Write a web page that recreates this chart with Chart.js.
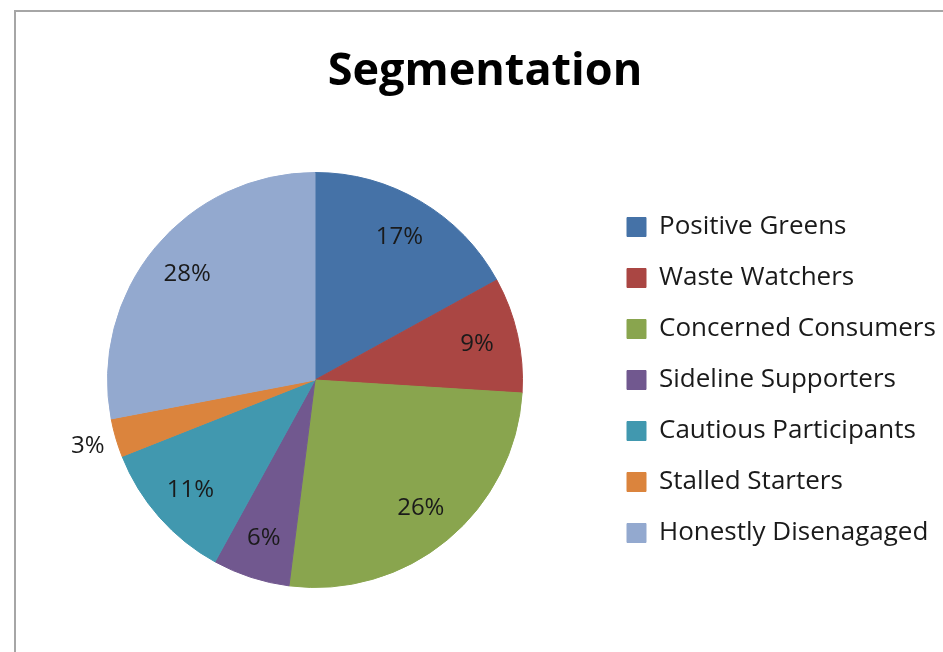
<!DOCTYPE html>
<html>
<head>
<meta charset="utf-8">
<title>Segmentation</title>
<script src="https://cdn.jsdelivr.net/npm/chart.js@4.4.1/dist/chart.umd.min.js"></script>
<style>
  html, body { margin: 0; padding: 0; background: #fff; }
  #frame {
    position: absolute; left: 14px; top: 10px; right: 0; bottom: 0;
    border-top: 2px solid #a6a6a6; border-left: 2px solid #a6a6a6;
  }
  #chart { position: absolute; left: 0; top: 0; }
</style>
</head>
<body>
<div id="frame"></div>
<canvas id="chart" width="943" height="652"></canvas>
<script>
/* ── Data ─────────────────────────────────────────────── */
const segments = [
  'Positive Greens',
  'Waste Watchers',
  'Concerned Consumers',
  'Sideline Supporters',
  'Cautious Participants',
  'Stalled Starters',
  'Honestly Disenagaged',
];
const shares = [17, 9, 26, 6, 11, 3, 28];
const segmentColors = ['#4572A7', '#AA4643', '#89A54E', '#71588F', '#4198AF', '#DB843D', '#93A9CF'];

/* ── Percent labels on the slices ─────────────────────── */
const sliceLabels = {
  id: 'sliceLabels',
  afterDatasetsDraw(chart) {
    const ctx = chart.ctx;
    const meta = chart.getDatasetMeta(0);
    ctx.save();
    ctx.font = "24px 'Open Sans', sans-serif";
    ctx.fillStyle = '#1a1a1a';
    ctx.textAlign = 'center';
    ctx.textBaseline = 'middle';
    meta.data.forEach((arc, i) => {
      const v = shares[i];
      const mid = (arc.startAngle + arc.endAngle) / 2;
      // tiny slices get their label outside the pie
      const r = v <= 3 ? arc.outerRadius * 1.14 : arc.outerRadius * 0.8;
      ctx.fillText(v + '%', arc.x + Math.cos(mid) * r, arc.y + Math.sin(mid) * r);
    });
    ctx.restore();
  },
};

new Chart(document.getElementById('chart').getContext('2d'), {
  type: 'pie',
  data: {
    labels: segments,
    datasets: [{
      data: shares,
      backgroundColor: segmentColors,
      borderColor: segmentColors,
      borderWidth: 1,
    }],
  },
  options: {
    responsive: false,
    animation: false,
    layout: { padding: { top: 0, bottom: 64, left: 28, right: 1 } },
    plugins: {
      title: {
        display: true,
        text: 'Segmentation',
        color: '#000',
        font: { family: "'Open Sans', sans-serif", size: 45, weight: 'bold', lineHeight: 1.2 },
        padding: { top: 45, bottom: 73 },
      },
      legend: {
        position: 'right',
        fullSize: false,
        maxWidth: 340,
        labels: {
          color: '#1a1a1a',
          font: { family: "'Open Sans', sans-serif", size: 26 },
          boxWidth: 19,
          boxHeight: 19,
          padding: 25,
        },
      },
      tooltip: { enabled: false },
    },
  },
  plugins: [sliceLabels],
});
</script>
</body>
</html>
